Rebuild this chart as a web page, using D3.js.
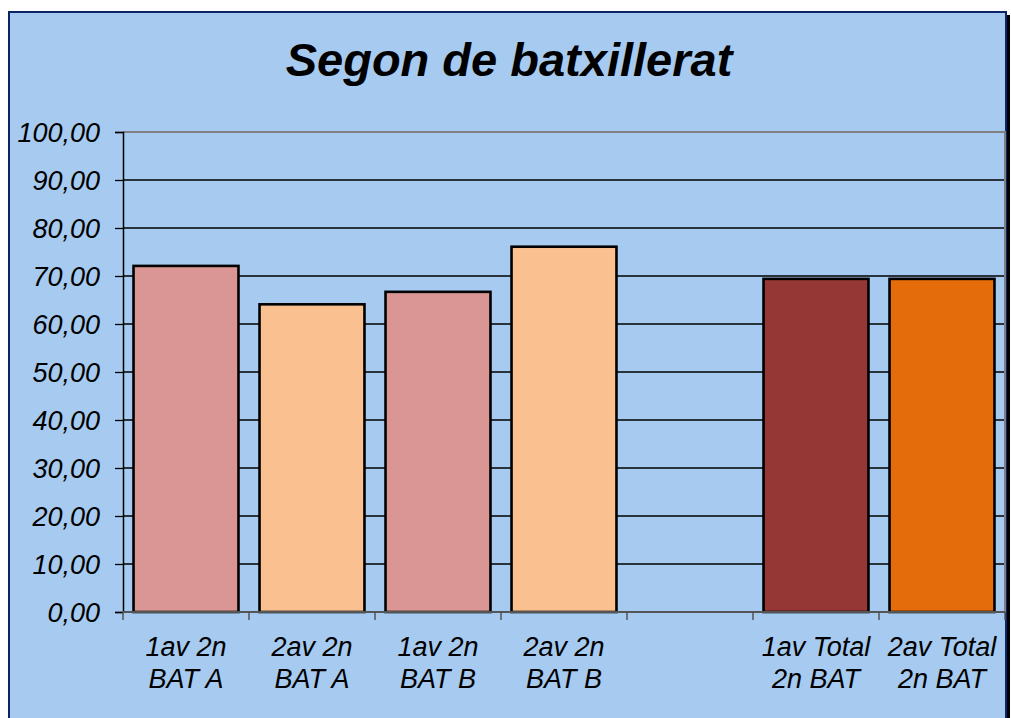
<!DOCTYPE html>
<html><head><meta charset="utf-8">
<script src="https://cdn.jsdelivr.net/npm/d3@7"></script>
<style>html,body{margin:0;padding:0;background:#fff;}svg{display:block;}</style>
</head><body>
<svg id="c" width="1011" height="718"></svg>
<script>
const categories = [["1av 2n","BAT A"],["2av 2n","BAT A"],["1av 2n","BAT B"],["2av 2n","BAT B"],["",""],["1av Total","2n BAT"],["2av Total","2n BAT"]];
const values = [72.1, 64.1, 66.7, 76.1, null, 69.4, 69.4];
const colors = ["#DA9694","#FAC090","#DA9694","#FAC090",null,"#953735","#E46C0A"];
const yTicks = [0,10,20,30,40,50,60,70,80,90,100];
const title = "Segon de batxillerat";

const svg = d3.select("#c");
const font = "'Liberation Sans', Arial, sans-serif";
svg.append("rect").attr("x",12).attr("y",15).attr("width",998).attr("height",720).attr("fill","#000");
svg.append("rect").attr("x",9).attr("y",12).attr("width",997).attr("height",720)
  .attr("fill","#A6CAF0").attr("stroke","#0B2566").attr("stroke-width",2);

svg.append("text").attr("x",509).attr("y",76).attr("text-anchor","middle")
  .attr("font-family",font).attr("font-size",47).attr("font-weight","bold").attr("font-style","italic")
  .attr("fill","#000").text(title);

const L=123,R=1005,T=132,B=612;
const x = d3.scaleBand().domain(d3.range(categories.length)).range([L,R]).paddingInner(0.167).paddingOuter(0.0835);
const y = d3.scaleLinear().domain([0,100]).range([B,T]);
const g = svg.append("g");

g.selectAll("line.grid").data(yTicks.filter(d=>d>0 && d<100)).enter().append("line")
  .attr("x1",L).attr("x2",R).attr("y1",d=>y(d)).attr("y2",d=>y(d)).attr("stroke","#000").attr("stroke-width",1.3);
g.append("path").attr("d",`M${L},${y(100)}H${R}V${B}`).attr("fill","none").attr("stroke","#808080").attr("stroke-width",2);

g.selectAll("rect.bar").data(values.map((v,i)=>({v,i})).filter(d=>d.v!=null)).enter().append("rect")
  .attr("x",d=>x(d.i)).attr("width",x.bandwidth()).attr("y",d=>y(d.v)).attr("height",d=>y(0)-y(d.v))
  .attr("fill",d=>colors[d.i]).attr("stroke","#000").attr("stroke-width",2.6);

const ya = d3.axisLeft(y).tickValues(yTicks).tickSize(8).tickFormat(d=>d3.format(".2f")(d).replace(".",","));
const yg = svg.append("g").attr("transform",`translate(${L},0)`).call(ya);
yg.select(".domain").attr("stroke","#000").attr("stroke-width",1.5);
yg.selectAll(".tick line").attr("stroke","#000").attr("stroke-width",1.3);
yg.selectAll(".tick text").attr("font-family",font).attr("font-size",27).attr("font-style","italic").attr("fill","#000").attr("x",-23).attr("dy","0.34em");

const xg = svg.append("g").attr("transform",`translate(0,${B})`);
xg.append("line").attr("x1",L).attr("x2",R).attr("y1",0).attr("y2",0).attr("stroke","#555").attr("stroke-width",2);
xg.selectAll("line.tk").data(d3.range(categories.length+1)).enter().append("line")
  .attr("x1",i=>L+i*(R-L)/categories.length).attr("x2",i=>L+i*(R-L)/categories.length)
  .attr("y1",0).attr("y2",8).attr("stroke","#555").attr("stroke-width",1.5);
const lab = xg.selectAll("text.cl").data(categories).enter().append("text")
  .attr("text-anchor","middle").attr("font-family",font).attr("font-size",27).attr("font-style","italic").attr("fill","#000");
lab.append("tspan").attr("x",(d,i)=>x(i)+x.bandwidth()/2).attr("y",44).text(d=>d[0]);
lab.append("tspan").attr("x",(d,i)=>x(i)+x.bandwidth()/2).attr("y",76).text(d=>d[1]);
</script>
</body></html>
